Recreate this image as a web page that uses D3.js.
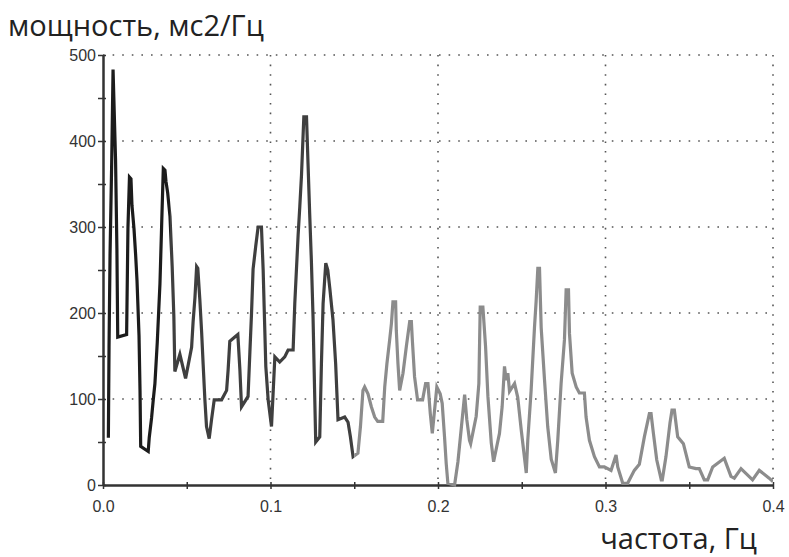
<!DOCTYPE html>
<html>
<head>
<meta charset="utf-8">
<script src="https://cdn.jsdelivr.net/npm/d3@7"></script>
<style>
  html, body { margin: 0; padding: 0; background: #fff; overflow: hidden; }
  svg { display: block; }
</style>
</head>
<body>
<div id="graphDiv"></div>
<script>
// spectrum values
var freq = [0.0032, 0.0036, 0.0042, 0.0052, 0.0060, 0.0075, 0.0083, 0.0088, 0.0141, 0.0149,
  0.0158, 0.0167, 0.0173, 0.0185, 0.0195, 0.0203, 0.0215, 0.0221, 0.0225, 0.0270,
  0.0276, 0.0290, 0.0300, 0.0310, 0.0324, 0.0340, 0.0350, 0.0360, 0.0370, 0.0376,
  0.0386, 0.0400, 0.0413, 0.0423, 0.0429, 0.0459, 0.0493, 0.0509, 0.0529, 0.0538,
  0.0549, 0.0559, 0.0566, 0.0578, 0.0589, 0.0598, 0.0608, 0.0618, 0.0634, 0.0648,
  0.0664, 0.0708, 0.0738, 0.0747, 0.0757, 0.0787, 0.0805, 0.0817, 0.0827, 0.0866,
  0.0877, 0.0887, 0.0896, 0.0912, 0.0926, 0.0946, 0.0956, 0.0962, 0.0972, 0.0986,
  0.1006, 0.1026, 0.1055, 0.1085, 0.1105, 0.1135, 0.1145, 0.1165, 0.1175, 0.1185,
  0.1199, 0.1215, 0.1224, 0.1234, 0.1244, 0.1254, 0.1264, 0.1270, 0.1294, 0.1304,
  0.1314, 0.1330, 0.1342, 0.1354, 0.1373, 0.1389, 0.1403, 0.1443, 0.1463, 0.1477,
  0.1493, 0.1522, 0.1537, 0.1552, 0.1562, 0.1582, 0.1602, 0.1622, 0.1640, 0.1670,
  0.1682, 0.1695, 0.1711, 0.1722, 0.1731, 0.1747, 0.1751, 0.1761, 0.1771, 0.1791,
  0.1811, 0.1831, 0.1841, 0.1847, 0.1860, 0.1878, 0.1908, 0.1926, 0.1940, 0.1954,
  0.1966, 0.1993, 0.2013, 0.2025, 0.2039, 0.2049, 0.2059, 0.2099, 0.2119, 0.2139,
  0.2159, 0.2172, 0.2188, 0.2195, 0.2228, 0.2244, 0.2252, 0.2268, 0.2284, 0.2298,
  0.2318, 0.2332, 0.2351, 0.2367, 0.2383, 0.2397, 0.2407, 0.2417, 0.2427, 0.2457,
  0.2476, 0.2497, 0.2527, 0.2536, 0.2556, 0.2576, 0.2586, 0.2596, 0.2606, 0.2616,
  0.2636, 0.2655, 0.2676, 0.2701, 0.2715, 0.2735, 0.2755, 0.2765, 0.2779, 0.2785,
  0.2801, 0.2825, 0.2844, 0.2874, 0.2884, 0.2904, 0.2934, 0.2964, 0.2993, 0.3033,
  0.3063, 0.3073, 0.3103, 0.3132, 0.3143, 0.3172, 0.3202, 0.3232, 0.3262, 0.3272,
  0.3286, 0.3306, 0.3333, 0.3339, 0.3361, 0.3385, 0.3397, 0.3411, 0.3431, 0.3465,
  0.3500, 0.3540, 0.3560, 0.3590, 0.3610, 0.3640, 0.3709, 0.3749, 0.3769, 0.3809,
  0.3878, 0.3918, 0.3977, 0.4000];

var power = [55, 160, 267, 376, 483, 378, 275, 172, 175, 299,
  358, 356, 325, 298, 267, 238, 174, 110, 45, 39,
  55, 78, 99, 118, 166, 234, 301, 368, 366, 353,
  340, 312, 254, 196, 132, 152, 124, 140, 160, 190,
  218, 254, 252, 216, 177, 140, 100, 68, 54, 76,
  99, 99, 110, 134, 167, 172, 175, 135, 91, 103,
  155, 201, 251, 278, 300, 300, 251, 208, 138, 99,
  68, 149, 143, 149, 157, 157, 211, 291, 324, 360,
  428, 428, 374, 315, 261, 195, 103, 50, 56, 141,
  211, 258, 250, 229, 192, 141, 76, 79, 73, 56,
  33, 37, 68, 110, 114, 106, 91, 79, 74, 74,
  114, 141, 168, 188, 213, 213, 180, 141, 110, 130,
  161, 190, 190, 168, 126, 99, 99, 118, 118, 83,
  60, 114, 106, 95, 56, 25, 2, 0, 27, 66,
  105, 76, 52, 48, 80, 118, 207, 207, 161, 103,
  49, 27, 45, 60, 91, 138, 122, 130, 109, 118,
  102, 64, 14, 52, 110, 183, 214, 252, 252, 183,
  122, 68, 30, 14, 52, 118, 169, 227, 227, 176,
  130, 114, 107, 107, 79, 52, 33, 21, 21, 17,
  35, 21, 2, 2, 6, 17, 24, 56, 83, 83,
  60, 29, 6, 6, 33, 72, 87, 87, 56, 48,
  21, 19, 19, 6, 6, 21, 31, 10, 8, 19,
  6, 17, 8, 4];

// frequency bands: VLF, LF, HF and their stroke colours
var bandEdges = [0, 0.04, 0.15, 0.4];
var bandColors = ["#1c1c1c", "#3f3f3f", "#8c8c8c"];

var xTicks = [0, 0.1, 0.2, 0.3, 0.4];
var yTicks = [0, 100, 200, 300, 400, 500];

var outerWidth = 789,
    outerHeight = 557,
    margin = {top: 55, right: 16, bottom: 72, left: 103},
    innerWidth = outerWidth - margin.left - margin.right,
    innerHeight = outerHeight - margin.top - margin.bottom;

var svg = d3.select("#graphDiv")
    .append("svg")
    .attr("width", outerWidth)
    .attr("height", outerHeight);

var g = svg.append("g")
    .attr("transform", "translate(" + margin.left + "," + margin.top + ")");

var x = d3.scaleLinear().domain([0, 0.4]).range([0, innerWidth]);
var y = d3.scaleLinear().domain([0, 500]).range([innerHeight, 0]);

var data = freq.map(function(f, i) { return {f: f, p: power[i]}; });

// dotted grid
g.selectAll(".hgrid")
    .data(yTicks.slice(1))
    .enter().append("line")
    .attr("x1", 0).attr("x2", innerWidth)
    .attr("y1", function(d) { return y(d); })
    .attr("y2", function(d) { return y(d); })
    .attr("stroke", "#555")
    .attr("stroke-width", 1.6)
    .attr("stroke-dasharray", "1.6,8");

g.selectAll(".vgrid")
    .data(xTicks.slice(1))
    .enter().append("line")
    .attr("x1", function(d) { return x(d); })
    .attr("x2", function(d) { return x(d); })
    .attr("y1", 0).attr("y2", innerHeight)
    .attr("stroke", "#555")
    .attr("stroke-width", 1.6)
    .attr("stroke-dasharray", "1.6,8");

// minor ticks (every 50 / every 0.05), no labels
var yMinor = g.append("g").call(d3.axisLeft(y).tickValues(d3.range(50, 500, 100)).tickFormat("").tickSizeOuter(0));
var xMinor = g.append("g")
    .attr("transform", "translate(0," + innerHeight + ")")
    .call(d3.axisBottom(x).tickValues([0.05, 0.15, 0.25, 0.35]).tickFormat("").tickSizeOuter(0));
yMinor.selectAll("text").remove();
xMinor.selectAll("text").remove();
yMinor.selectAll(".tick line").attr("x1", -5).attr("x2", 3);
xMinor.selectAll(".tick line").attr("y1", -3).attr("y2", 4);

// main axes with labels
var yg = g.append("g").call(d3.axisLeft(y).tickValues(yTicks).tickSizeOuter(0));
yg.selectAll(".tick line").attr("x1", -5).attr("x2", 3);

var xg = g.append("g")
    .attr("transform", "translate(0," + innerHeight + ")")
    .call(d3.axisBottom(x).tickValues(xTicks).tickFormat(d3.format(".1f")).tickSizeOuter(0));
xg.selectAll(".tick line").attr("y1", -3).attr("y2", 4);

[yMinor, xMinor, yg, xg].forEach(function(a) {
  a.select(".domain").attr("stroke", "#333").attr("stroke-width", 2);
  a.selectAll(".tick line").attr("stroke", "#333").attr("stroke-width", 1.5);
  a.selectAll("text")
    .attr("fill", "#333")
    .style("font-family", "'Liberation Sans', Arial, sans-serif")
    .style("font-size", "16px");
});
yg.selectAll("text").attr("x", -7);
xg.selectAll("text").attr("y", 16);

// spectrum line, one clipped copy per band
var line = d3.line()
    .x(function(d) { return x(d.f); })
    .y(function(d) { return y(d.p); });

bandColors.forEach(function(c, i) {
  g.append("clipPath")
    .attr("id", "band" + i)
    .append("rect")
    .attr("x", x(bandEdges[i]))
    .attr("y", -10)
    .attr("width", x(bandEdges[i + 1]) - x(bandEdges[i]))
    .attr("height", innerHeight + 20);

  g.append("path")
    .datum(data)
    .attr("clip-path", "url(#band" + i + ")")
    .attr("fill", "none")
    .attr("stroke", c)
    .attr("stroke-width", 3.2)
    .attr("d", line);
});

// axis titles
svg.append("text")
    .attr("x", 8)
    .attr("y", 36)
    .attr("fill", "#222")
    .style("font-family", "'Open Sans', sans-serif")
    .style("font-size", "29px")
    .text("мощность, мс2/Гц");

svg.append("text")
    .attr("x", 757)
    .attr("y", 549)
    .attr("text-anchor", "end")
    .attr("fill", "#222")
    .style("font-family", "'Open Sans', sans-serif")
    .style("font-size", "29px")
    .text("частота, Гц");
</script>
</body>
</html>
